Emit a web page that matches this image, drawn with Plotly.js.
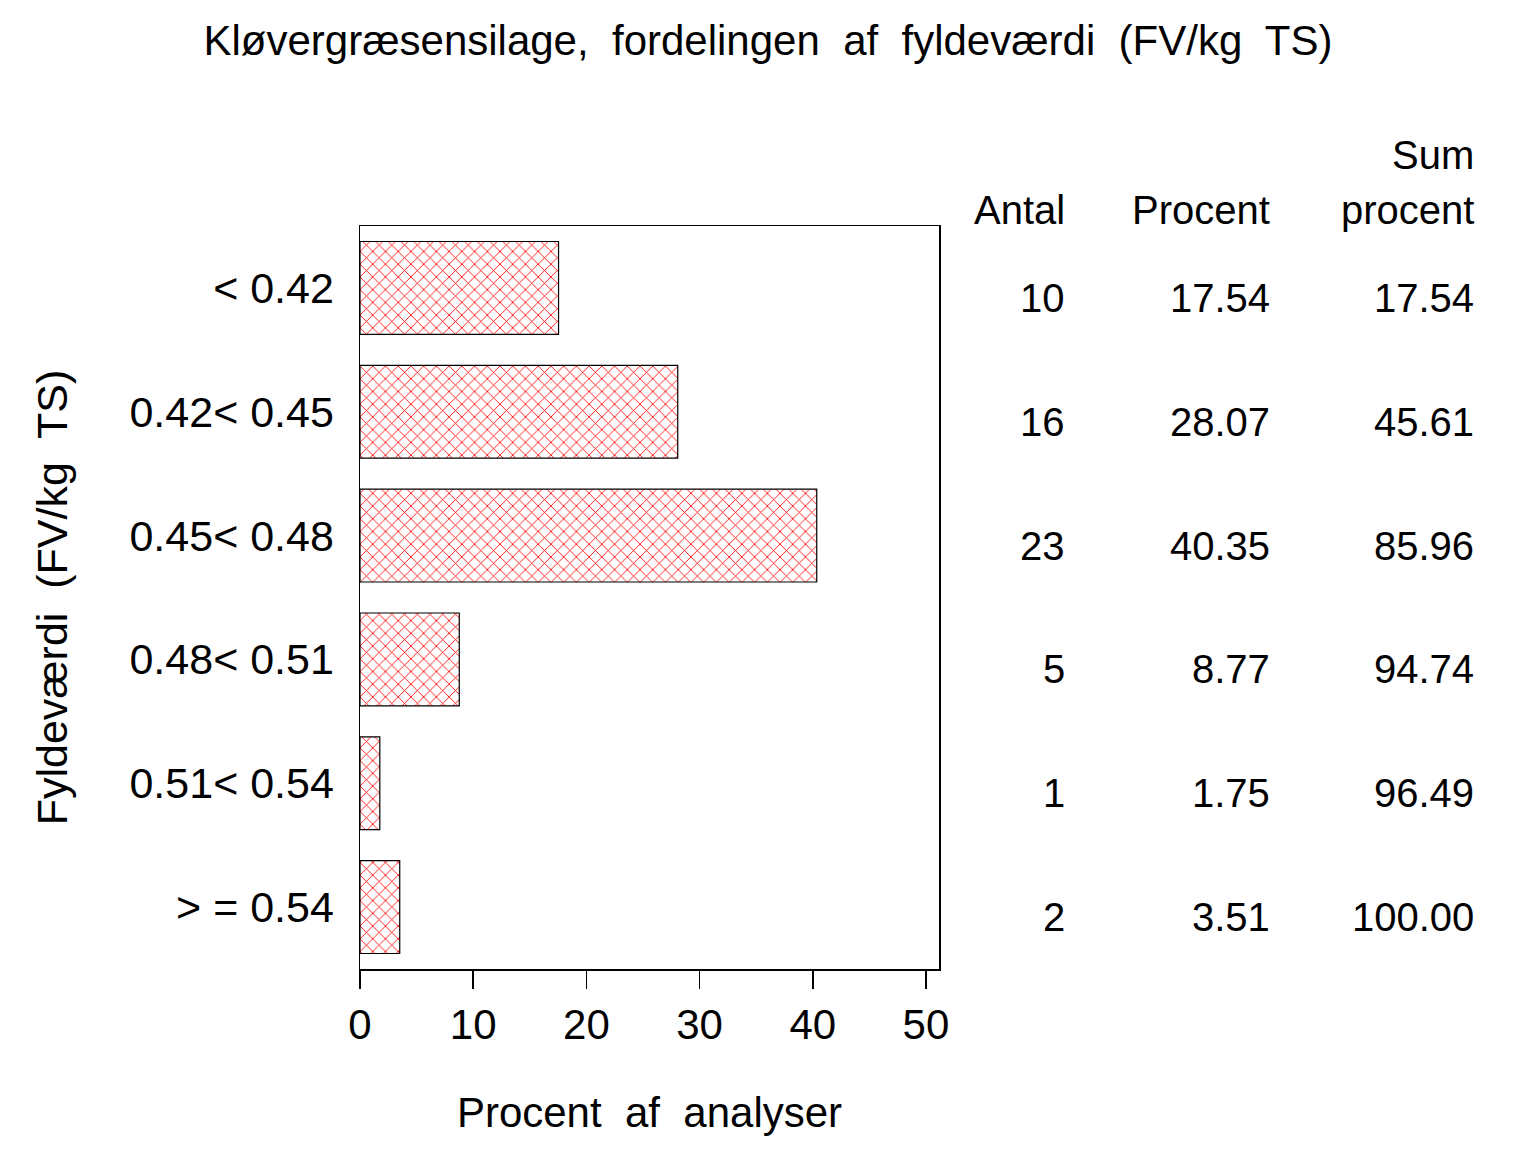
<!DOCTYPE html>
<html>
<head>
<meta charset="utf-8">
<script src="https://cdn.plot.ly/plotly-3.0.1.min.js"></script>
<style>
  body { margin: 0; background: #fff; }
  #chart { width: 1536px; height: 1152px; }
</style>
</head>
<body>
<div id="chart"></div>
<script>
// classes of fill value (FV/kg TS)
var classes = ["< 0.42", "0.42< 0.45", "0.45< 0.48", "0.48< 0.51", "0.51< 0.54", "> = 0.54"];
// number of analyses per class
var antal = [10, 16, 23, 5, 1, 2];
// percent of analyses
var procent = [17.54, 28.07, 40.35, 8.77, 1.75, 3.51];
// cumulative percent
var sumProcent = [17.54, 45.61, 85.96, 94.74, 96.49, 100.00];

var xTicks = [0, 10, 20, 30, 40, 50];

var font = "Liberation Sans, Arial, sans-serif";

var bars = {
	type: "bar",
	orientation: "h",
	y: classes,
	x: procent,
	width: 0.75,
	marker: {
		color: "white",
		line: {color: "black", width: 1.2},
		pattern: {shape: "x", fgcolor: "#ff0000", bgcolor: "white", size: 9, solidity: 0.18}
	},
	hoverinfo: "x+y"
};

// table to the right of the plot, one annotation per cell
var annotations = [];
var colX = [1.221, 1.575, 1.927];   // right edge of each column, paper coords
var headers = [["Antal"], ["Procent"], ["Sum", "procent"]];
for (var c = 0; c < headers.length; c++) {
	var h = headers[c];
	for (var r = 0; r < h.length; r++) {
		annotations.push({
			xref: "paper", yref: "paper",
			x: colX[c], y: 1.022 + (h.length - 1 - r) * 0.073,
			xanchor: "right", yanchor: "middle",
			text: h[r], showarrow: false,
			font: {family: font, size: 40, color: "black"}
		});
	}
}
for (var i = 0; i < classes.length; i++) {
	var cells = [String(antal[i]), procent[i].toFixed(2), sumProcent[i].toFixed(2)];
	for (var c = 0; c < cells.length; c++) {
		annotations.push({
			xref: "paper", yref: "y",
			x: colX[c], y: classes[i],
			xanchor: "right", yanchor: "middle",
			yshift: -10,
			text: cells[c], showarrow: false,
			font: {family: font, size: 40, color: "black"}
		});
	}
}

var layout = {
	width: 1536,
	height: 1152,
	paper_bgcolor: "white",
	plot_bgcolor: "white",
	showlegend: false,
	margin: {l: 360, r: 597, t: 226, b: 183},
	font: {family: font, size: 42, color: "black"},
	title: {
		text: "Kløvergræsensilage,  fordelingen  af  fyldeværdi  (FV/kg  TS)",
		x: 0.5, xanchor: "center",
		y: 0.965, yanchor: "middle",
		font: {family: font, size: 42, color: "black"}
	},
	xaxis: {
		range: [0, 51.15],
		tickvals: xTicks,
		ticktext: xTicks.map(String),
		ticks: "outside",
		ticklen: 18,
		tickwidth: 1.5,
		tickcolor: "black",
		showline: true,
		linecolor: "black",
		linewidth: 1.5,
		mirror: true,
		showgrid: false,
		zeroline: false,
		tickfont: {family: font, size: 42},
		title: {text: "Procent  af  analyser", standoff: 50, font: {family: font, size: 42}}
	},
	yaxis: {
		type: "category",
		categoryorder: "array",
		categoryarray: classes,
		autorange: false,
		range: [5.5, -0.5],
		ticks: "",
		showline: true,
		linecolor: "black",
		linewidth: 1.5,
		mirror: true,
		showgrid: false,
		zeroline: false,
		ticklabelstandoff: 16,
		tickfont: {family: font, size: 43},
		title: {text: "Fyldeværdi  (FV/kg  TS)", standoff: 48, font: {family: font, size: 43}}
	},
	annotations: annotations
};

Plotly.newPlot("chart", [bars], layout, {displayModeBar: false, staticPlot: true});
</script>
</body>
</html>
